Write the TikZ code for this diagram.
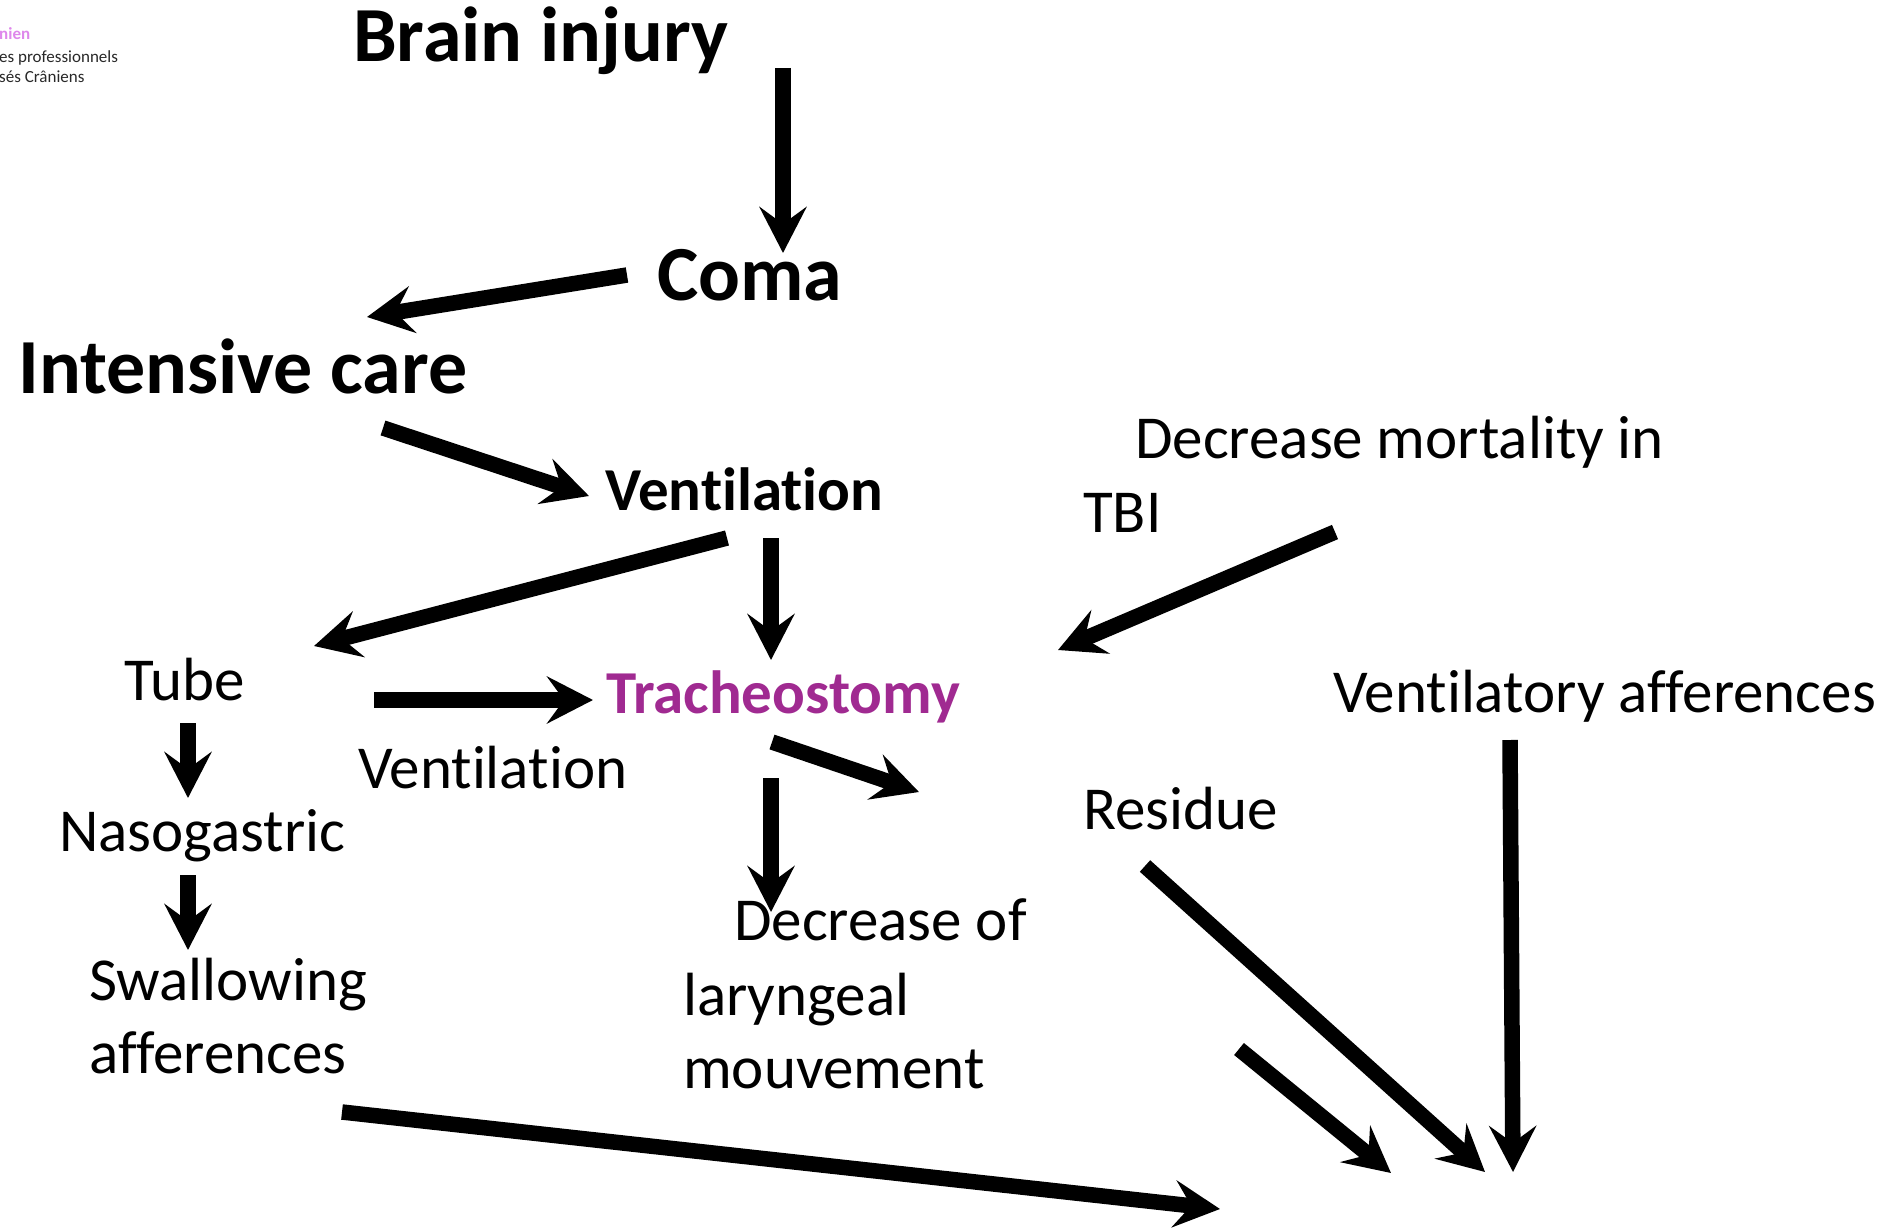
\documentclass[tikz,border=0pt]{standalone}
\usepackage{fontspec}
\setmainfont{Carlito}[Ligatures={NoCommon}]
\usetikzlibrary{arrows.meta}
\definecolor{trach}{RGB}{160,42,145}
\definecolor{logopink}{RGB}{222,135,235}
\definecolor{logogrey}{RGB}{40,40,40}
\begin{document}
\begin{tikzpicture}[x=1pt,y=-1pt,
  big/.style={font=\fontsize{78}{92}\selectfont\bfseries, anchor=base west, inner sep=0pt},
  mid/.style={font=\fontsize{61}{72}\selectfont\bfseries, anchor=base west, inner sep=0pt},
  txt/.style={font=\fontsize{61}{72}\selectfont, anchor=base west, inner sep=0pt},
  logo/.style={font=\fontsize{17}{20}\selectfont, anchor=base west, inner sep=0pt, text=logogrey},
  arr/.style={line width=15.5pt, -{Stealth[length=46pt,width=47pt,inset=17pt]}}]
\useasboundingbox (0,0) rectangle (1901,1231);
\clip (0,0) rectangle (1901,1231);
% logo fragments
\node[logo, font=\fontsize{17}{20}\selectfont\bfseries, text=logopink] (l1) at (-1,40) {nien};
\node[logo] (l2) at (-1,63) {es professionnels};
\node[logo] (l3) at (-1,83) {sés Crâniens};
% texts
\node[big] (brain) at (353,62) {Brain injury};
\node[big] (coma) at (657,300) {Coma};
\node[big] (icare) at (18,393) {Intensive care};
\node[mid] (vent) at (605,510) {Ventilation};
\node[txt] (decm1) at (1135,458) {Decrease mortality in};
\node[txt] (decm2) at (1083,532) {TBI};
\node[txt] (tube) at (124,700) {Tube};
\node[mid, text=trach] (trach) at (606,713) {Tracheostomy};
\node[txt] (ventaff) at (1333,712) {Ventilatory afferences};
\node[txt] (vent2) at (358,788) {Ventilation};
\node[txt] (naso) at (59,851) {Nasogastric};
\node[txt] (residue) at (1083,829) {Residue};
\node[txt] (declar1) at (734,940) {Decrease of};
\node[txt] (declar2) at (683,1015) {laryngeal};
\node[txt] (declar3) at (683,1088) {mouvement};
\node[txt] (swal1) at (89,1000) {Swallowing};
\node[txt] (swal2) at (89,1073) {afferences};
% arrow end points
\coordinate (a1s) at (783,68);   \coordinate (a1e) at (783,253);
\coordinate (a2s) at (627,275);  \coordinate (a2e) at (367,317);
\coordinate (a3s) at (383,428);  \coordinate (a3e) at (589,496);
\coordinate (a4s) at (727,538);  \coordinate (a4e) at (314,646);
\coordinate (a5s) at (771,538);  \coordinate (a5e) at (771,660);
\coordinate (a6s) at (1335,532); \coordinate (a6e) at (1058,650);
\coordinate (a7s) at (374,700);  \coordinate (a7e) at (593,700);
\coordinate (a8s) at (188,723);  \coordinate (a8e) at (188,798);
\coordinate (a9s) at (188,875);  \coordinate (a9e) at (188,950);
\coordinate (a10s) at (772,742); \coordinate (a10e) at (919,792);
\coordinate (a11s) at (771,778); \coordinate (a11e) at (771,912);
\coordinate (a12s) at (1510,740); \coordinate (a12e) at (1513,1172);
\coordinate (a13s) at (1145,866); \coordinate (a13e) at (1485,1172);
\coordinate (a14s) at (1239,1049); \coordinate (a14e) at (1391,1173);
\coordinate (a15s) at (342,1112); \coordinate (a15e) at (1220,1209);
\foreach \i in {1,...,15} {\draw[arr] (a\i s) -- (a\i e);}
\end{tikzpicture}
\end{document}
